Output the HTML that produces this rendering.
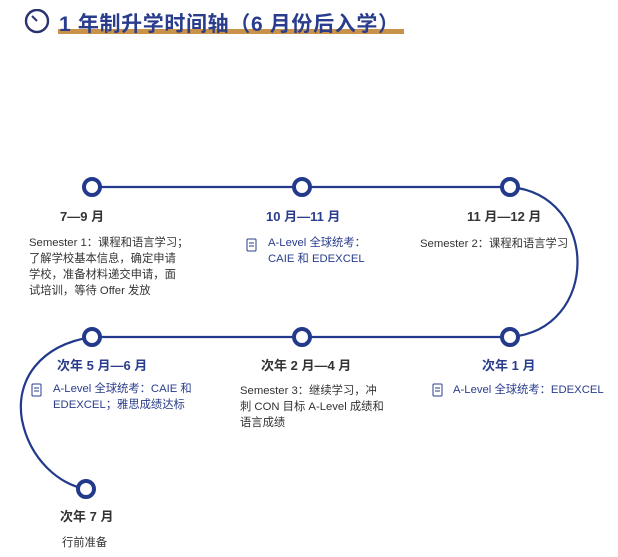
<!DOCTYPE html>
<html><head><meta charset="utf-8"><style>
html,body{margin:0;padding:0;background:#fff;width:618px;height:557px;overflow:hidden}
svg{display:block}
text{font-family:"Liberation Sans","Noto Sans CJK SC",sans-serif}
.h{font-size:13px;font-weight:bold;fill:#333}
.hb{font-size:13px;font-weight:bold;fill:#2a3d8c}
.t{font-size:11.3px;fill:#333}
.tb{font-size:11.3px;fill:#2a3d8c}
</style></head><body>
<svg width="618" height="557" viewBox="0 0 618 557">
<rect x="58" y="29" width="346" height="5" fill="#c9924a"/>
<circle cx="37" cy="21" r="11" fill="none" stroke="#2a3270" stroke-width="2.4"/>
<line x1="37" y1="21" x2="32" y2="16" stroke="#2a3270" stroke-width="2"/>
<rect x="34" y="7" width="6" height="2" fill="#fff"/>
<text x="59" y="31" textLength="340" style="font-size:21px;font-weight:bold;fill:#2a3d8c">1 年制升学时间轴（6 月份后入学）</text>
<g fill="none" stroke="#233a8c" stroke-width="2.2">
<line x1="92" y1="187" x2="510" y2="187"/>
<line x1="92" y1="337" x2="510" y2="337"/>
<path d="M510 187 C600 195 600 330 510 337"/>
<path d="M92 337 C40 345 15 380 22 420 C30 460 60 485 86 489"/>
</g>
<g fill="#fff" stroke="#233a8c" stroke-width="4">
<circle cx="92" cy="187" r="8"/><circle cx="302" cy="187" r="8"/><circle cx="510" cy="187" r="8"/>
<circle cx="92" cy="337" r="8"/><circle cx="302" cy="337" r="8"/><circle cx="510" cy="337" r="8"/>
<circle cx="86" cy="489" r="8"/>
</g>
<text class="h" x="60" y="221">7—9 月</text>
<text class="t" x="29" y="246">Semester 1：课程和语言学习；</text>
<text class="t" x="29" y="262">了解学校基本信息，确定申请</text>
<text class="t" x="29" y="278">学校，准备材料递交申请，面</text>
<text class="t" x="29" y="294">试培训，等待 Offer 发放</text>
<text class="hb" x="266" y="221">10 月—11 月</text>
<g fill="none" stroke="#2a3d8c" stroke-width="1"><rect x="247" y="239" width="9" height="12" rx="1"/><line x1="249" y1="243" x2="254" y2="243"/><line x1="249" y1="246" x2="254" y2="246"/></g>
<text class="tb" x="268" y="246">A-Level 全球统考：</text>
<text class="tb" x="268" y="262">CAIE 和 EDEXCEL</text>
<text class="h" x="467" y="221">11 月—12 月</text>
<text class="t" x="420" y="247">Semester 2：课程和语言学习</text>
<text class="hb" x="57" y="370">次年 5 月—6 月</text>
<g fill="none" stroke="#2a3d8c" stroke-width="1"><rect x="32" y="384" width="9" height="12" rx="1"/><line x1="34" y1="388" x2="39" y2="388"/><line x1="34" y1="391" x2="39" y2="391"/></g>
<text class="tb" x="53" y="392">A-Level 全球统考：CAIE 和</text>
<text class="tb" x="53" y="408">EDEXCEL；雅思成绩达标</text>
<text class="h" x="261" y="370">次年 2 月—4 月</text>
<text class="t" x="240" y="394">Semester 3：继续学习，冲</text>
<text class="t" x="240" y="410">刺 CON 目标 A-Level 成绩和</text>
<text class="t" x="240" y="426">语言成绩</text>
<text class="hb" x="482" y="370">次年 1 月</text>
<g fill="none" stroke="#2a3d8c" stroke-width="1"><rect x="433" y="384" width="9" height="12" rx="1"/><line x1="435" y1="388" x2="440" y2="388"/><line x1="435" y1="391" x2="440" y2="391"/></g>
<text class="tb" x="453" y="393">A-Level 全球统考：EDEXCEL</text>
<text class="h" x="60" y="521">次年 7 月</text>
<text class="t" x="62" y="546">行前准备</text>
</svg>
</body></html>
